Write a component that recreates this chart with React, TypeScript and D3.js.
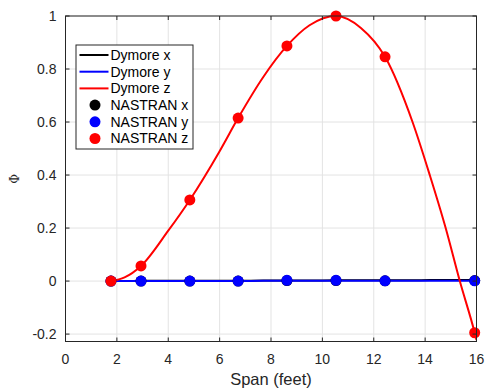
import React, { useRef, useEffect } from 'react';
import * as d3 from 'd3';

// NASTRAN sample stations (feet)
const nastranSpan = [1.77, 2.94, 4.84, 6.72, 8.62, 10.53, 12.44, 15.93];
const nastranX = [0, 0, 0, 0, 0.002, 0.002, 0.001, 0.002];
const nastranY = [0, 0.0, 0.0, 0.0, 0.003, 0.003, 0.001, 0.001];
const nastranZ = [0, 0.057, 0.306, 0.615, 0.887, 1.0, 0.846, -0.195];

// Dymore curves
const dymoreSpan = [1.77, 2.3, 2.94, 4.0, 4.84, 6.0, 6.72, 7.7, 8.62, 9.5, 10.53, 11.5, 12.44, 13.51, 14.18, 14.8, 15.35, 15.93, 16.0];
const dymoreX = [0, 0, 0.001, 0.001, 0.001, 0.001, 0.001, 0.002, 0.002, 0.002, 0.003, 0.003, 0.003, 0.003, 0.004, 0.004, 0.004, 0.004, 0.004];
const dymoreY = [0, 0, 0, 0, 0, 0, 0, 0.001, 0.001, 0.001, 0.001, 0.001, 0.001, 0.001, 0.001, 0.001, 0.001, 0.001, 0.001];
const dymoreZ = [0, 0.014, 0.057, 0.19, 0.306, 0.49, 0.615, 0.77, 0.887, 0.965, 1.0, 0.955, 0.846, 0.6, 0.4, 0.2, 0, -0.195, -0.222];

const xTicks = [0, 2, 4, 6, 8, 10, 12, 14, 16];
const yTicks = [-0.2, 0, 0.2, 0.4, 0.6, 0.8, 1];

const legendItems = [
  { label: 'Dymore x', color: '#000000', kind: 'line' },
  { label: 'Dymore y', color: '#0000ff', kind: 'line' },
  { label: 'Dymore z', color: '#ff0000', kind: 'line' },
  { label: 'NASTRAN x', color: '#000000', kind: 'dot' },
  { label: 'NASTRAN y', color: '#0000ff', kind: 'dot' },
  { label: 'NASTRAN z', color: '#ff0000', kind: 'dot' },
];

export default function App() {
  const svgRef = useRef<SVGSVGElement>(null);
  const width = 487;
  const height = 390;
  const margin = { top: 16, right: 10.5, bottom: 48.5, left: 65.5 };

  useEffect(() => {
    document.body.style.margin = '0';
    const svg = d3.select(svgRef.current);
    svg.selectAll('*').remove();

    const font = 'Liberation Sans, Arial, Helvetica, sans-serif';
    const axisColor = '#262626';

    const xScale = d3.scaleLinear().domain([0, 16]).range([margin.left, width - margin.right]);
    const yScale = d3.scaleLinear().domain([-0.228, 1]).range([height - margin.bottom, margin.top]);
    const [x0, x1] = xScale.range();
    const [y0, y1] = yScale.range();

    svg.append('rect').attr('x', x0).attr('y', y1).attr('width', x1 - x0).attr('height', y0 - y1).attr('fill', '#fff');

    // grid
    const grid = svg.append('g').attr('stroke', '#e3e3e3').attr('stroke-width', 1);
    xTicks.forEach(t => {
      grid.append('line').attr('x1', xScale(t)).attr('x2', xScale(t)).attr('y1', y0).attr('y2', y1);
    });
    yTicks.forEach(t => {
      grid.append('line').attr('x1', x0).attr('x2', x1).attr('y1', yScale(t)).attr('y2', yScale(t));
    });

    // clip for the lines
    svg.append('clipPath').attr('id', 'plotclip')
      .append('rect').attr('x', x0).attr('y', y1 - 2).attr('width', x1 - x0).attr('height', y0 - y1 + 2);

    const lineGen = (vals: number[]) => d3.line<number>()
      .x((_, i) => xScale(dymoreSpan[i]))
      .y(d => yScale(d))
      .curve(d3.curveMonotoneX)(vals);

    const lines = svg.append('g').attr('clip-path', 'url(#plotclip)').attr('fill', 'none').attr('stroke-width', 2);
    lines.append('path').attr('d', lineGen(dymoreX)).attr('stroke', '#000');
    lines.append('path').attr('d', lineGen(dymoreY)).attr('stroke', '#0000ff');
    lines.append('path').attr('d', lineGen(dymoreZ)).attr('stroke', '#ff0000');

    const dots = svg.append('g');
    [[nastranX, '#000'], [nastranY, '#0000ff'], [nastranZ, '#ff0000']].forEach(([vals, c]) => {
      dots.append('g').selectAll('circle')
        .data(vals as number[])
        .join('circle')
        .attr('cx', (_, i) => xScale(nastranSpan[i]))
        .attr('cy', d => yScale(d))
        .attr('r', 5.5)
        .attr('fill', c as string);
    });

    // axes box with inward ticks
    const tickLen = 4;
    const box = svg.append('g').attr('stroke', axisColor).attr('stroke-width', 1).attr('fill', 'none');
    box.append('rect').attr('x', x0).attr('y', y1).attr('width', x1 - x0).attr('height', y0 - y1);
    xTicks.forEach(t => {
      box.append('line').attr('x1', xScale(t)).attr('x2', xScale(t)).attr('y1', y0).attr('y2', y0 - tickLen);
      box.append('line').attr('x1', xScale(t)).attr('x2', xScale(t)).attr('y1', y1).attr('y2', y1 + tickLen);
    });
    yTicks.forEach(t => {
      box.append('line').attr('x1', x0).attr('x2', x0 + tickLen).attr('y1', yScale(t)).attr('y2', yScale(t));
      box.append('line').attr('x1', x1).attr('x2', x1 - tickLen).attr('y1', yScale(t)).attr('y2', yScale(t));
    });

    // tick labels
    const labels = svg.append('g').attr('font-family', font).attr('font-size', 14).attr('fill', axisColor);
    xTicks.forEach(t => {
      labels.append('text').attr('x', xScale(t)).attr('y', y0 + 22.5).attr('text-anchor', 'middle').text(d3.format('d')(t));
    });
    yTicks.forEach(t => {
      labels.append('text').attr('x', x0 - 9).attr('y', yScale(t)).attr('dy', '0.35em').attr('text-anchor', 'end').text(String(t));
    });

    svg.append('text').attr('x', (x0 + x1) / 2).attr('y', 385).attr('text-anchor', 'middle')
      .attr('font-family', font).attr('font-size', 16.5).attr('fill', axisColor).text('Span (feet)');
    svg.append('text').attr('transform', `translate(19,${(y0 + y1) / 2}) rotate(-90)`).attr('text-anchor', 'middle')
      .attr('font-family', 'DejaVu Serif, serif').attr('font-size', 12).attr('fill', axisColor).text('Φ');

    // legend
    const lg = svg.append('g').attr('transform', 'translate(76,45)');
    lg.append('rect').attr('width', 117).attr('height', 104).attr('fill', '#fff').attr('stroke', axisColor).attr('stroke-width', 1);
    legendItems.forEach((item, i) => {
      const cy = 10 + i * 16.7;
      if (item.kind === 'line') {
        lg.append('line').attr('x1', 3.5).attr('x2', 32.5).attr('y1', cy).attr('y2', cy).attr('stroke', item.color).attr('stroke-width', 2);
      } else {
        lg.append('circle').attr('cx', 19).attr('cy', cy).attr('r', 5.5).attr('fill', item.color);
      }
      lg.append('text').attr('x', 34.5).attr('y', cy).attr('dy', '0.35em').attr('font-family', font).attr('font-size', 14)
        .attr('fill', '#000').text(item.label);
    });
  }, []);

  return (
    <div>
      <svg ref={svgRef} width={width} height={height} style={{ display: 'block' }}></svg>
    </div>
  );
}
